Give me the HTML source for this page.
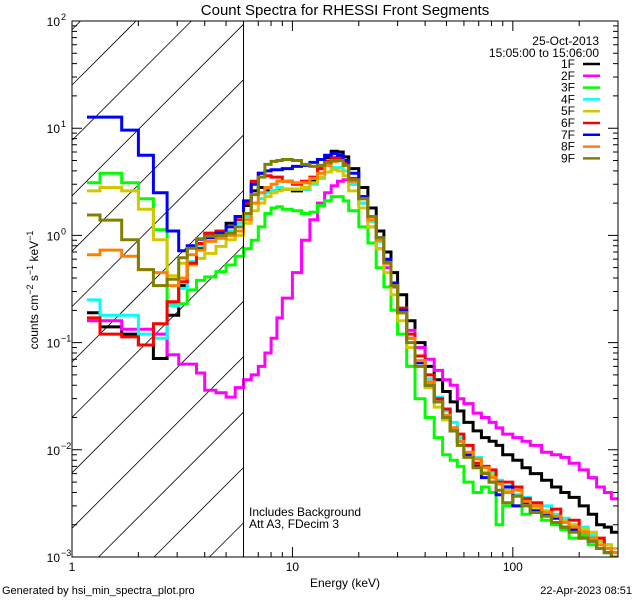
<!DOCTYPE html>
<html><head><meta charset="utf-8"><style>
html,body{margin:0;padding:0;background:#fff;width:640px;height:600px;overflow:hidden;}
svg{display:block;font-family:"Liberation Sans",sans-serif;}
</style></head><body>
<svg id="chart" width="640" height="600" viewBox="0 0 640 600" xmlns="http://www.w3.org/2000/svg">
<defs><clipPath id="plotclip"><rect x="72" y="21" width="546" height="536"/></clipPath></defs>
<rect width="640" height="600" fill="#fff"/>
<text x="345" y="15" font-size="15" text-anchor="middle">Count Spectra for RHESSI Front Segments</text>
<g id="hatch"></g>
<g id="series" clip-path="url(#plotclip)"></g>
<g id="axes"></g>
<text x="249" y="516" font-size="12">Includes Background</text>
<text x="249" y="528" font-size="12">Att A3, FDecim 3</text>
<text x="345" y="587" font-size="12" text-anchor="middle">Energy (keV)</text>
<text transform="translate(38,290) rotate(-90)" font-size="12" text-anchor="middle">counts cm<tspan dy="-5" font-size="9">−2</tspan><tspan dy="5"> s</tspan><tspan dy="-5" font-size="9">−1</tspan><tspan dy="5"> keV</tspan><tspan dy="-5" font-size="9">−1</tspan></text>
<text x="2" y="594" font-size="11">Generated by hsi_min_spectra_plot.pro</text>
<text x="632" y="594" font-size="11" text-anchor="end">22-Apr-2023 08:51</text>
<text x="599" y="45" font-size="12" text-anchor="end">25-Oct-2013</text>
<text x="599" y="57" font-size="12" text-anchor="end">15:05:00 to 15:06:00</text>
<g id="legend"></g>
</svg>
<script>
const edges=[1.17,1.34,1.68,2.0,2.34,2.7,3.05,3.33,3.67,4.0,4.5,5,5.5,6,6.5,7,7.5,8,8.5,9,10,11,12,13,14,15,16,17,18,20,22,24,26,28,30,33,36,40,44,48,52,56,60,66,72,78,84,90,100,110,120,135,150,165,180,200,220,240,260,280,300];
const labels=["1F","2F","3F","4F","5F","6F","7F","8F","9F"];
const colors=["#000000","#ff00ff","#00ff00","#00ffff","#d2c800","#ff0000","#0000ff","#ff8000","#808000"];
const s1F=[0.19,0.14,0.12,0.095,0.071,0.18,0.34,0.55,0.75,1.0,1.1,1.3,1.5,1.9,2.6,2.8,2.6,2.6,2.7,2.7,2.6,2.7,3.2,4.2,5.3,6.1,6.0,5.4,4.2,2.8,1.8,1.1,0.7,0.45,0.28,0.16,0.1,0.06,0.045,0.035,0.028,0.023,0.018,0.015,0.013,0.012,0.011,0.009,0.008,0.0068,0.006,0.0052,0.0045,0.004,0.0036,0.003,0.0025,0.002,0.0019,0.0017];
const s2F=[0.16,0.16,0.133,0.133,0.12,0.077,0.063,0.063,0.052,0.036,0.034,0.031,0.038,0.045,0.05,0.06,0.08,0.11,0.17,0.26,0.45,0.9,1.4,2.0,2.5,2.9,3.2,3.3,3.0,2.0,1.2,0.75,0.5,0.33,0.2,0.13,0.09,0.07,0.055,0.045,0.04,0.03,0.027,0.022,0.02,0.018,0.016,0.014,0.013,0.012,0.011,0.0095,0.009,0.0085,0.0075,0.0065,0.0055,0.0045,0.004,0.0035];
const s3F=[3.1,3.8,3.1,2.2,1.13,0.23,0.23,0.31,0.38,0.41,0.46,0.53,0.64,0.75,0.9,1.2,1.6,1.8,1.85,1.75,1.7,1.6,1.65,1.9,2.1,2.3,2.3,2.1,1.7,1.2,0.85,0.5,0.33,0.2,0.12,0.06,0.03,0.02,0.013,0.009,0.008,0.007,0.005,0.004,0.0045,0.004,0.002,0.003,0.003,0.0025,0.003,0.0022,0.002,0.0018,0.0015,0.0016,0.0013,0.0012,0.0011,0.001];
const s4F=[0.25,0.18,0.18,0.12,0.11,0.22,0.32,0.57,0.81,0.98,1.0,1.1,1.3,1.5,2.0,2.2,2.5,2.6,2.8,2.7,2.7,2.7,3.0,3.4,3.9,4.3,4.3,4.0,3.0,2.0,1.35,0.88,0.54,0.35,0.21,0.12,0.075,0.046,0.031,0.023,0.018,0.013,0.011,0.0085,0.007,0.0062,0.0052,0.0046,0.0038,0.0036,0.0031,0.003,0.0025,0.0023,0.002,0.0019,0.0016,0.0014,0.0013,0.0012];
const s5F=[2.6,2.8,2.6,1.75,0.91,0.42,0.55,0.53,0.61,0.68,0.79,0.91,1.0,1.3,1.7,2.0,2.3,2.5,2.6,2.7,2.7,2.8,3.1,3.5,3.9,4.1,4.0,3.6,2.6,1.8,1.2,0.75,0.45,0.28,0.16,0.09,0.06,0.038,0.025,0.019,0.015,0.011,0.009,0.0075,0.0062,0.0058,0.0048,0.0042,0.0037,0.0034,0.0029,0.0027,0.0024,0.0022,0.002,0.0018,0.0017,0.0014,0.0013,0.0012];
const s6F=[0.17,0.12,0.113,0.095,0.15,0.24,0.37,0.55,0.84,1.05,1.1,1.2,1.4,2.0,3.2,3.8,3.6,3.5,3.5,3.2,3.0,3.2,3.5,4.2,4.9,5.3,5.3,4.8,3.4,2.3,1.5,0.95,0.58,0.36,0.21,0.12,0.075,0.05,0.03,0.024,0.016,0.014,0.011,0.0075,0.007,0.0065,0.005,0.005,0.0045,0.0035,0.0032,0.0026,0.0028,0.0021,0.0022,0.0017,0.0015,0.0015,0.0012,0.0011];
const s7F=[12.7,12.7,9.6,5.6,2.5,1.1,0.72,0.8,0.92,0.95,1.05,1.2,1.5,2.1,3.0,3.8,4.0,4.1,4.1,4.2,4.4,4.5,4.8,5.1,5.6,5.8,5.6,5.0,3.8,2.3,1.5,0.95,0.6,0.36,0.2,0.11,0.065,0.04,0.028,0.02,0.015,0.012,0.009,0.007,0.0055,0.005,0.0038,0.0045,0.003,0.0032,0.0027,0.0025,0.0023,0.0019,0.0018,0.0015,0.0014,0.0012,0.0011,0.001];
const s8F=[0.66,0.73,0.64,0.48,0.45,0.34,0.4,0.66,0.73,0.88,0.94,1.0,1.1,1.4,2.0,2.5,2.8,3.0,3.2,3.2,3.1,3.1,3.4,3.8,4.5,4.9,5.0,4.5,3.2,2.2,1.4,0.9,0.55,0.34,0.19,0.11,0.068,0.043,0.028,0.021,0.016,0.012,0.0095,0.0082,0.0068,0.0055,0.0048,0.004,0.0042,0.0033,0.003,0.0026,0.0024,0.0021,0.0019,0.0017,0.0015,0.0013,0.0012,0.0011];
const s9F=[1.55,1.39,0.91,0.48,0.34,0.39,0.62,0.76,0.93,0.98,1.0,1.05,1.2,1.6,2.4,3.5,4.6,4.9,5.0,5.1,5.0,4.6,4.4,4.5,4.8,5.0,5.0,4.5,3.3,2.2,1.5,0.95,0.56,0.34,0.19,0.1,0.06,0.04,0.028,0.02,0.015,0.011,0.0085,0.0068,0.006,0.005,0.0042,0.0032,0.0037,0.003,0.0026,0.0024,0.0021,0.0019,0.0017,0.0015,0.0014,0.0012,0.0011,0.001];
const seriesData=[s1F,s2F,s3F,s4F,s5F,s6F,s7F,s8F,s9F];
const xMajorTicks=[1,10,100];
const xTickLabels=["1","10","100"];
const yExponents=[2,1,0,-1,-2,-3];

const X0=72,X1=618,Y0=21,Y1=557,EMIN=1,EMAX=300,VMIN=1e-3,VMAX=100;
function xs(e){return X0+(X1-X0)*Math.log10(e/EMIN)/Math.log10(EMAX/EMIN);}
function ys(v){return Y0+(Y1-Y0)*Math.log10(VMAX/v)/Math.log10(VMAX/VMIN);}
const NS="http://www.w3.org/2000/svg";
function mk(tag,attrs,parent){const el=document.createElementNS(NS,tag);for(const k in attrs)el.setAttribute(k,attrs[k]);parent.appendChild(el);return el;}

const hatch=document.getElementById('hatch');
const HX1=xs(6);
for(let k=-4;k<12;k++){const c=85+55.4*k;
 const xa=Math.max(X0,X0+c-Y1), xb=Math.min(HX1,X0+c-Y0);
 if(xb<=xa) continue;
 const ln=mk('line',{x1:xa,y1:c-(xa-X0),x2:xb,y2:c-(xb-X0),stroke:'#000','stroke-width':0.8},hatch);
 
 }

const sg=document.getElementById('series');
seriesData.forEach((vals,si)=>{
 let d='';
 for(let i=0;i<vals.length;i++){
  const xa=xs(edges[i]),xb=xs(edges[i+1]),y=Math.min(Y1,ys(vals[i]));
  d+=(i===0?'M'+xa.toFixed(1)+' '+y.toFixed(1):'V'+y.toFixed(1))+'H'+xb.toFixed(1);
 }
 const p=mk('path',{d:d,fill:'none',stroke:colors[si],'stroke-width':3,'stroke-linejoin':'miter'},sg);
 
 
});

const ax=document.getElementById('axes');
const frame=mk('rect',{x:X0,y:Y0,width:X1-X0,height:Y1-Y0,fill:'none',stroke:'#000','stroke-width':1},ax);


const vl=mk('line',{x1:xs(6),y1:Y0,x2:xs(6),y2:Y1,stroke:'#000','stroke-width':1},ax);


for(let dec=1;dec<=100;dec*=10){for(let m=1;m<10;m++){const e=dec*m;if(e>EMAX)break;
 const x=xs(e),L=(m===1)?10:5;
 const t=mk('path',{d:`M${x} ${Y1}v${-L}M${x} ${Y0}v${L}`,stroke:'#000','stroke-width':1},ax);
 
 }}
xMajorTicks.forEach((e,i)=>{const t=mk('text',{x:xs(e),y:571,'font-size':12,'text-anchor':'middle'},ax);t.textContent=xTickLabels[i];
 
 });
yExponents.forEach(p=>{const y=ys(Math.pow(10,p));
 const t=mk('text',{x:60,y:y+5,'font-size':12,'text-anchor':'end'},ax);
 t.textContent='10';
 
 
 const s=mk('text',{x:61,y:y-1,'font-size':9,'text-anchor':'start'},ax);s.textContent=String(p).replace('-','−');
 
 
 if(p>-3){for(let m=1;m<10;m++){const yy=ys(Math.pow(10,p-1)*m);const L=m===1?10:5;
  const tk=mk('path',{d:`M${X0} ${yy}h${L}M${X1} ${yy}h${-L}`,stroke:'#000','stroke-width':1},ax);
  
  }}
});
const topTicks=mk('path',{d:`M${X0} ${Y0}h10M${X1} ${Y0}h-10`,stroke:'#000'},ax);



const lg=document.getElementById('legend');
labels.forEach((l,i)=>{const y=64+11.8*i;
 const t=mk('text',{x:575,y:y+4,'font-size':12,'text-anchor':'end'},lg);t.textContent=l;
 
 
 const ln=mk('line',{x1:583,y1:y,x2:600,y2:y,stroke:colors[i],'stroke-width':2.5},lg);
 
 });
</script>
</body></html>
